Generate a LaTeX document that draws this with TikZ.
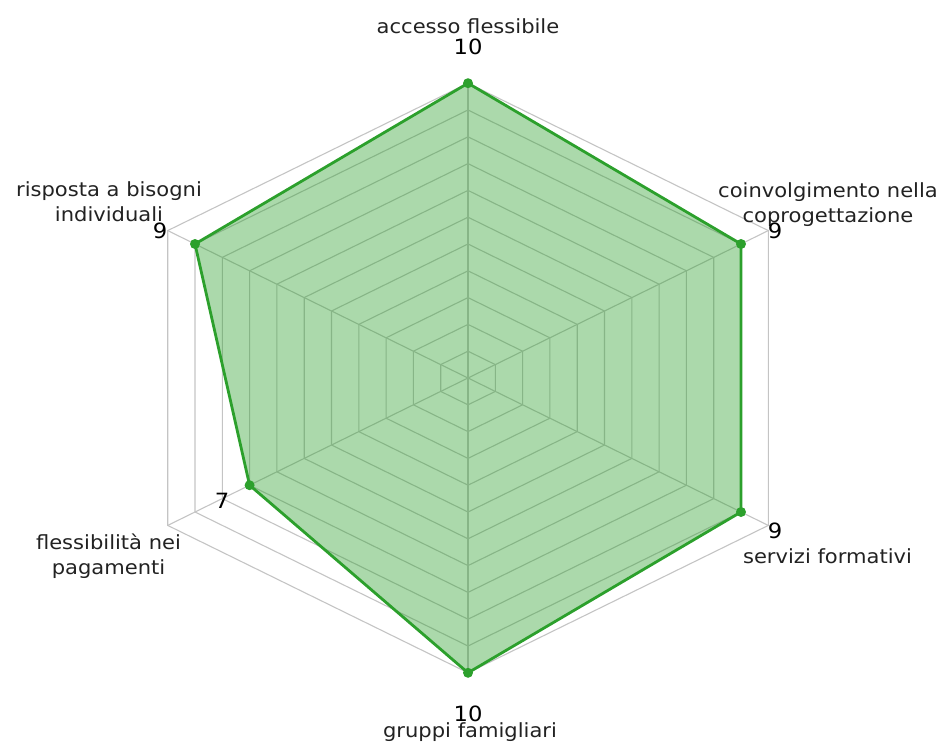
\documentclass[tikz,border=0pt]{standalone}
\usepackage{fontspec}
\setmainfont{DejaVu Sans}[FakeStretch=1.08]
\definecolor{tabgreen}{HTML}{2CA02C}
\definecolor{gridgray}{HTML}{C4C4C4}
\definecolor{labgray}{HTML}{222222}
\begin{document}
\begin{tikzpicture}[x=1pt,y=-1pt,
  gridline/.style={draw=gridgray, line width=1.1pt},
  datafill/.style={fill=tabgreen, fill opacity=0.4},
  dataline/.style={draw=tabgreen, line width=2.8pt, line join=miter},
  marker/.style={circle, fill=tabgreen, inner sep=0pt, minimum size=10pt},
  lab/.style={font=\fontsize{19.5}{25}\selectfont, align=center, text=labgray, inner sep=0pt, anchor=base},
  num/.style={font=\fontsize{21}{22}\selectfont, text=black, inner sep=0pt, anchor=base}]
\useasboundingbox (0,0) rectangle (944,744);
\begin{scope}[shift={(468,378)}]
  % rings
  \foreach \k in {1,...,11} {
    \draw[gridline] (0,-\k*26.8) -- (\k*27.3,-\k*13.4) -- (\k*27.3,\k*13.4)
      -- (0,\k*26.8) -- (-\k*27.3,\k*13.4) -- (-\k*27.3,-\k*13.4) -- cycle;
  }
  % spokes
  \coordinate (C) at (0,0);
  \coordinate (A0) at (0,-294.8);
  \coordinate (A1) at (300.3,-147.4);
  \coordinate (A2) at (300.3,147.4);
  \coordinate (A3) at (0,294.8);
  \coordinate (A4) at (-300.3,147.4);
  \coordinate (A5) at (-300.3,-147.4);
  \foreach \i in {0,...,5} { \draw[gridline] (C) -- (A\i); }
  % data
  \coordinate (P0) at (0,-294.8);
  \coordinate (P1) at (273,-134);
  \coordinate (P2) at (273,134);
  \coordinate (P3) at (0,294.8);
  \coordinate (P4) at (-218.4,107.2);
  \coordinate (P5) at (-273,-134);
  \fill[datafill] (P0) -- (P1) -- (P2) -- (P3) -- (P4) -- (P5) -- cycle;
  \draw[dataline] (P0) -- (P1) -- (P2) -- (P3) -- (P4) -- (P5) -- cycle;
  \foreach \i in {0,...,5} { \node[marker] (M\i) at (P\i) {}; }
\end{scope}
% axis labels (base = baseline of last line)
\node[lab] (L0) at (468,33) {accesso flessibile};
\node[lab] (L1) at (828,222) {coinvolgimento nella\\coprogettazione};
\node[lab] (L2) at (827.5,563) {servizi formativi};
\node[lab] (L3) at (470,737) {gruppi famigliari};
\node[lab] (L4) at (108.5,574) {flessibilità nei\\pagamenti};
\node[lab] (L5) at (109,221) {risposta a bisogni\\individuali};
% values
\node[num] (V0) at (468,54) {10};
\node[num] (V1) at (775,238) {9};
\node[num] (V2) at (775,538) {9};
\node[num] (V3) at (468,721) {10};
\node[num] (V4) at (222,508) {7};
\node[num] (V5) at (160,238) {9};
\end{tikzpicture}
\end{document}
